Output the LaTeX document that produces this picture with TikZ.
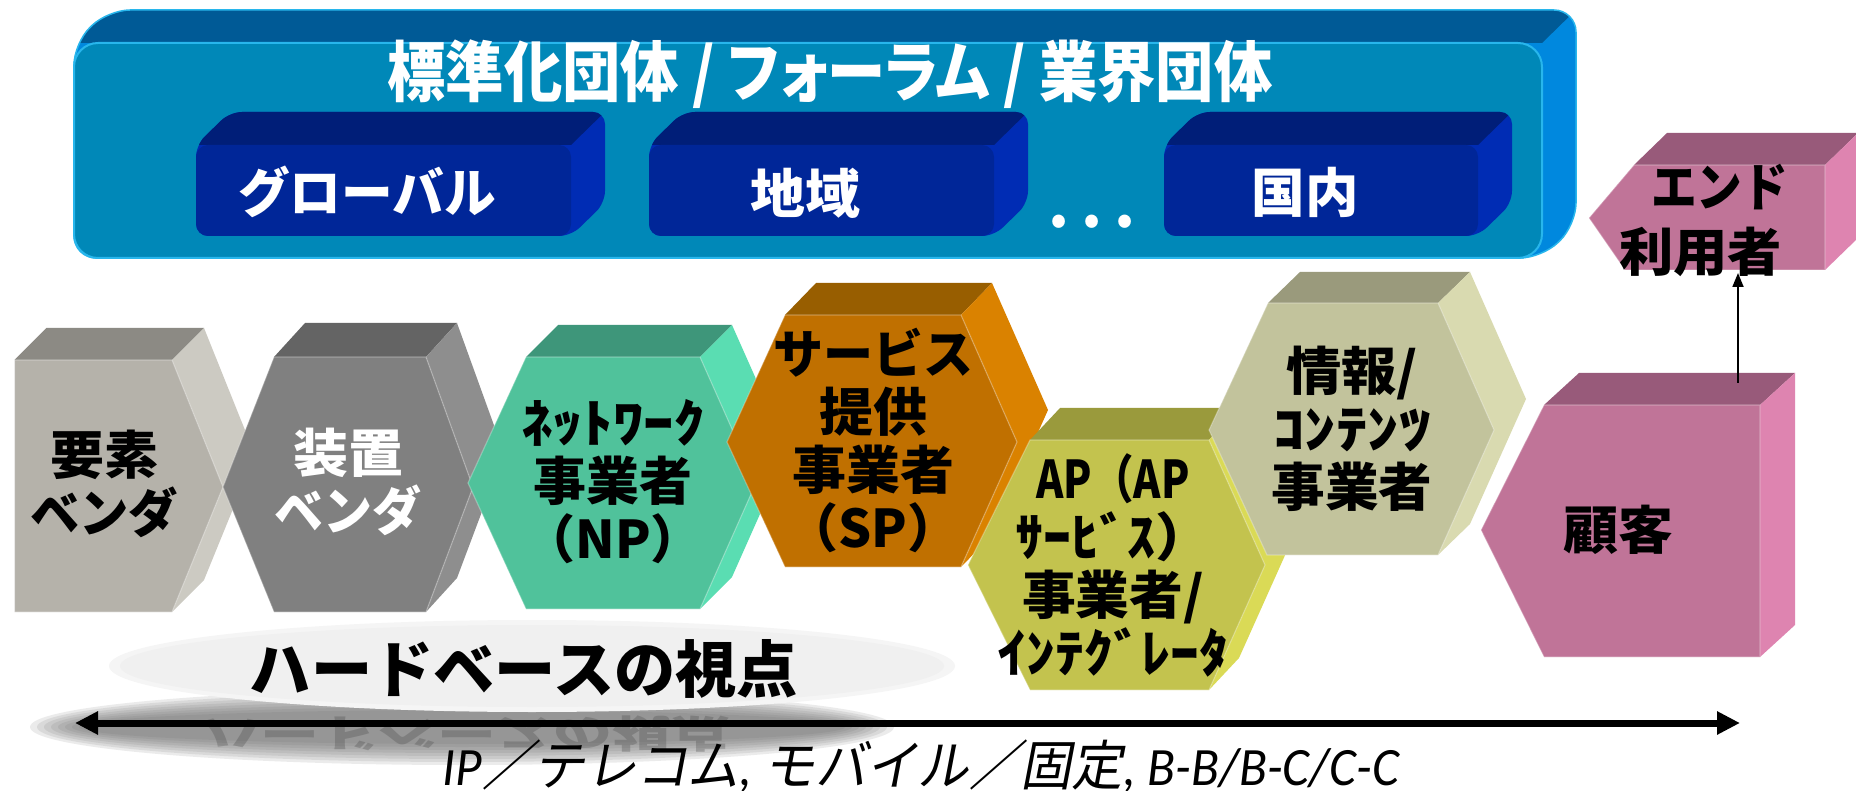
\documentclass[tikz,border=0pt]{standalone}
\usepackage{fontspec}
\usepackage{graphicx}
\usetikzlibrary{calc,arrows.meta}
\setmainfont{Noto Sans CJK JP}
\newfontfamily\jpp{Noto Sans CJK JP}[RawFeature=+palt]
\newfontfamily\jpsl{Noto Sans CJK JP}[FakeSlant=0.2]
\newfontfamily\carl{Carlito}
\newcommand\fitw[2]{\resizebox{#1pt}{\height}{#2}}
% colours
\definecolor{bluF}{RGB}{0,136,184}
\definecolor{bluT}{RGB}{0,90,150}
\definecolor{bluS}{RGB}{0,136,222}
\definecolor{bluE}{RGB}{40,182,236}
\definecolor{navF}{RGB}{0,38,152}
\definecolor{navT}{RGB}{0,30,120}
\definecolor{navS}{RGB}{0,44,180}
\definecolor{aF}{RGB}{181,178,170}\definecolor{aT}{RGB}{140,138,132}\definecolor{aS}{RGB}{204,202,194}
\definecolor{bF}{RGB}{128,128,128}\definecolor{bT}{RGB}{100,100,100}\definecolor{bS}{RGB}{142,142,142}
\definecolor{cF}{RGB}{80,194,155}\definecolor{cT}{RGB}{62,150,122}\definecolor{cS}{RGB}{90,221,178}
\definecolor{dF}{RGB}{192,112,0}\definecolor{dT}{RGB}{152,94,0}\definecolor{dS}{RGB}{218,130,0}
\definecolor{eF}{RGB}{195,195,78}\definecolor{eT}{RGB}{154,154,60}\definecolor{eS}{RGB}{218,218,86}
\definecolor{fF}{RGB}{194,195,156}\definecolor{fT}{RGB}{154,154,124}\definecolor{fS}{RGB}{217,218,176}
\definecolor{gF}{RGB}{192,116,152}\definecolor{gT}{RGB}{152,90,122}\definecolor{gS}{RGB}{222,132,176}
\tikzset{
  faceedge/.style={draw=white, draw opacity=0.28, line width=1.2pt},
  boxtext/.style={align=center, inner sep=0pt, font=\fontsize{52}{58}\selectfont\bfseries},
}
% prism: #1 colour prefix, #2 L, #3 TL, #4 TR, #5 R, #6 BR, #7 BL ; depth vector \pv
\newcommand\prism[7]{%
  \fill[#1T] (#3) -- ($(#3)+(\pv)$) -- ($(#4)+(\pv)$) -- (#4) -- cycle;
  \fill[#1S] (#4) -- ($(#4)+(\pv)$) -- ($(#5)+(\pv)$) -- ($(#6)+(\pv)$) -- (#6) -- (#5) -- cycle;
  \fill[#1F] (#2) -- (#3) -- (#4) -- (#5) -- (#6) -- (#7) -- cycle;
  \draw[faceedge] (#2) -- (#3) -- (#4) -- (#5) -- (#6) -- (#7) -- cycle;
}
\newcommand\navybox[2]{%
  \begin{scope}
    \clip[rounded corners=12pt] (#1,236) -- (#1,145) -- ({#1+34},112) -- ({#2+34},112) -- ({#2+34},203) -- (#2,236) -- cycle;
    \fill[navS] ({#1-20},100) rectangle ({#2+50},250);
    \fill[navT] ({#1-20},100) -- ({#2+46},100) -- (#2,145) -- ({#1-20},145) -- cycle;
  \end{scope}
  \fill[navF, rounded corners=12pt] (#1,145) rectangle (#2,236);
}
\begin{document}
\begin{tikzpicture}[x=1pt,y=-1pt]
\useasboundingbox (0,0) rectangle (1856,791);
\fill[white] (0,0) rectangle (1856,791);

% ---------- outer blue box ----------
\begin{scope}
  \clip[rounded corners=22pt] (74,258) -- (74,43) -- (108,10) -- (1576,10) -- (1576,225) -- (1542,258) -- cycle;
  \fill[bluS] (0,0) rectangle (1600,300);
  \fill[bluT] (0,0) -- (1586,0) -- (1542,43) -- (0,43) -- cycle;
\end{scope}
\draw[bluE, line width=1.5pt, rounded corners=22pt] (74,258) -- (74,43) -- (108,10) -- (1576,10) -- (1576,225) -- (1542,258) -- cycle;
\fill[bluF, draw=bluE, line width=2pt, rounded corners=24pt] (74,43) rectangle (1542,258);

\navybox{196}{571}
\navybox{649}{994}
\navybox{1164}{1478}

\node[font=\fontsize{66}{70}\selectfont\bfseries\jpp, text=white, inner sep=0pt] (title) at (830,74)
  {\fitw{885}{標準化団体 / フォーラム / 業界団体}};
\node[font=\fontsize{53}{58}\selectfont\bfseries, text=white, inner sep=0pt] (glob) at (367,192) {\fitw{258}{グローバル}};
\node[font=\fontsize{53}{58}\selectfont\bfseries, text=white, inner sep=0pt] (regn) at (805,193) {\fitw{110}{地域}};
\node[font=\fontsize{53}{58}\selectfont\bfseries, text=white, inner sep=0pt] (dom) at (1305,192) {\fitw{107}{国内}};
\node[font=\fontsize{60}{60}\selectfont\bfseries, text=white, inner sep=0pt] (dots) at (1092,222) {.\kern12pt.\kern12pt.};

% ---------- bottom ellipse and shadow ----------
\foreach \i in {0,...,7}
  \fill[black!60, opacity=0.13] (462,727) ellipse ({432-\i*7} and {38-\i*3});
\node[text=black!75, opacity=0.28, font=\fontsize{62}{62}\selectfont\bfseries, inner sep=0pt] (refl) at (466,734)
  {\scalebox{1}[-0.62]{\fitw{528}{ハードベースの視点}}};
\fill[black!4] (532,666) ellipse (423 and 46);
\fill[black!6] (532,666) ellipse (412 and 41);
\node[font=\fontsize{62}{62}\selectfont\bfseries, inner sep=0pt] (hard) at (524,669) {\fitw{548}{ハードベースの視点}};

% ---------- prisms ----------
\def\pv{32,-32}
\prism{a}{14.5,486}{14.5,360}{172,360}{223,487}{172,612}{14.5,612}
\def\pv{31,-34}
\prism{b}{223,487}{274,357}{426,357}{473,487}{426,612}{274,612}
\def\pv{32,-32}
\prism{c}{468,483}{526,357}{700,357}{756,483}{700,609}{526,609}
\def\pv{31,-32}
\prism{d}{727,442}{785,315}{961,315}{1017,442}{961,567}{785,567}
\def\pv{30,-32}
\prism{e}{968,565}{1030,440}{1209,440}{1265,565}{1209,690}{1030,690}
\def\pv{32,-31}
\prism{f}{1209,430}{1268,303}{1438,303}{1494,430}{1438,555}{1267,555}
\def\pv{35,-32}
\prism{g}{1481,530}{1544,405}{1760,405}{1760,531}{1760,657}{1544,657}
\def\pv{33,-32}
\prism{g}{1589,218}{1634,165}{1825,165}{1825,218}{1825,270}{1625,270}

% ---------- prism labels ----------
\node[boxtext] (yoso) at (104,484) {\fitw{108}{要素}\\\fitw{148}{ベンダ}};
\node[boxtext, text=white] (sochi) at (348,482) {\fitw{110}{装置}\\\fitw{147}{ベンダ}};
\node[boxtext] (np) at (613,482) {\fitw{183}{ﾈｯﾄﾜｰｸ}\\\fitw{159}{事業者}\\（NP）};
\node[boxtext] (sp) at (873,440) {\fitw{200}{サービス}\\\fitw{108}{提供}\\\fitw{162}{事業者}\\（SP）};
\node[boxtext] (ap) at (1113,565) {\fitw{153}{AP（AP}\\\fitw{196}{ｻｰﾋﾞｽ）}\\\fitw{182}{事業者/}\\\fitw{231}{ｲﾝﾃｸﾞﾚｰﾀ}};
\node[boxtext] (info) at (1352,429) {\fitw{132}{情報/}\\\fitw{157}{ｺﾝﾃﾝﾂ}\\\fitw{161}{事業者}};
\node[boxtext] (cust) at (1618,530) {\fitw{110}{顧客}};
\node[boxtext, font=\fontsize{52}{65}\selectfont\bfseries] (endu) at (1710,220)
  {\hspace*{19pt}\fitw{137}{エンド}\\\fitw{163}{利用者}\hspace*{19pt}};

% ---------- arrows ----------
\coordinate (custTop) at (1738,383);
\coordinate (endBot) at (1738,273);
\draw[line width=1.8pt, -{Triangle[length=14pt,width=11pt]}] (custTop) -- (endBot);
\coordinate (axL) at (75,723);
\coordinate (axR) at (1740,723);
\draw[line width=7pt, {Triangle[length=23pt,width=22pt]}-{Triangle[length=23pt,width=22pt]}] (axL) -- (axR);

\node[font=\fontsize{54}{56}\selectfont, inner sep=0pt] (scope) at (921,766)
  {\fitw{956}{{\carl\itshape IP}{\jpsl ／テレコム}{\carl\itshape , }{\jpsl モバイル／固定}{\carl\itshape , B-B/B-C/C-C}}};
\end{tikzpicture}
\end{document}
